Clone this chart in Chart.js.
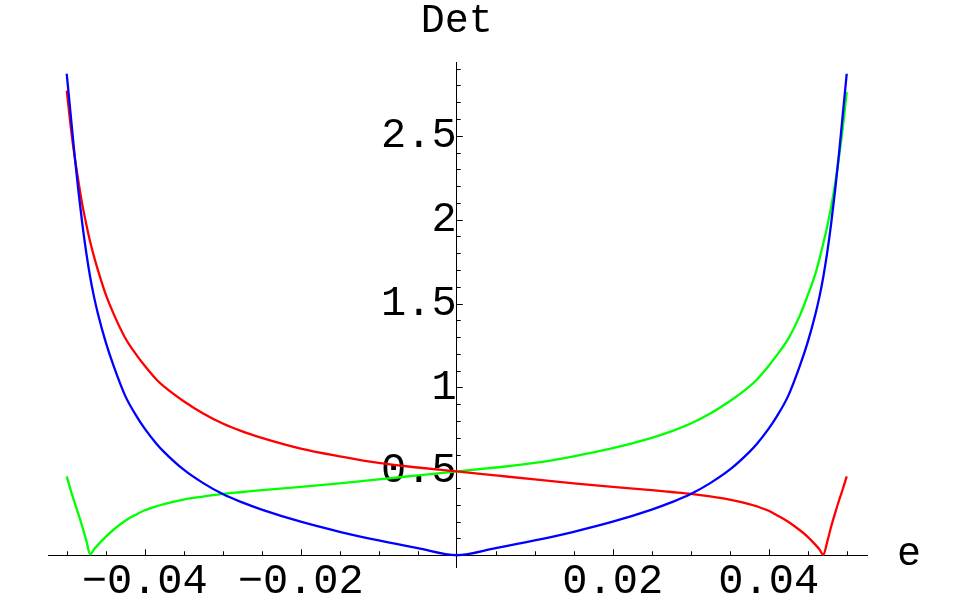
<!DOCTYPE html>
<html>
<head>
<meta charset="utf-8">
<script src="https://cdn.jsdelivr.net/npm/chart.js@4.4.1/dist/chart.umd.min.js"></script>
<style>
  html, body { margin: 0; padding: 0; background: #fff; }
</style>
</head>
<body>
<canvas id="detChart" width="978" height="604"></canvas>
<script>
// sample points along e
const eValues = [
  -0.05, -0.0495, -0.049, -0.0485, -0.048, -0.0475, -0.047, -0.0465, -0.046, -0.045, -0.044,
  -0.0425, -0.041, -0.04, -0.0385, -0.0375, -0.035, -0.0325, -0.03, -0.0275, -0.025,
  -0.02, -0.015, -0.01, -0.005,
  0,
  0.005, 0.01, 0.015, 0.02,
  0.025, 0.0275, 0.03, 0.0325, 0.035, 0.0375, 0.0385, 0.04, 0.041, 0.0425,
  0.044, 0.045, 0.046, 0.0465, 0.047, 0.0475, 0.048, 0.0485, 0.049, 0.0495, 0.05,
];
const blueDet = [
  2.87, 2.63, 2.39, 2.17, 1.975, 1.805, 1.66, 1.54, 1.44, 1.27, 1.13,
  0.95, 0.825, 0.755, 0.665, 0.615, 0.51, 0.43, 0.365, 0.315, 0.272,
  0.2, 0.14, 0.088, 0.042,
  0,
  0.042, 0.088, 0.14, 0.2,
  0.272, 0.315, 0.365, 0.43, 0.51, 0.615, 0.665, 0.755, 0.825, 0.95,
  1.13, 1.27, 1.44, 1.54, 1.66, 1.805, 1.975, 2.17, 2.39, 2.63, 2.87,
];
const redDet = [
  2.77, 2.56, 2.38, 2.23, 2.09, 1.975, 1.87, 1.78, 1.70, 1.555, 1.44,
  1.295, 1.19, 1.13, 1.048, 1.005, 0.918, 0.845, 0.785, 0.738, 0.70,
  0.636, 0.59, 0.55, 0.523,
  0.5,
  0.476, 0.452, 0.429, 0.408,
  0.388, 0.377, 0.366, 0.351, 0.332, 0.305, 0.291, 0.265, 0.24, 0.2,
  0.149, 0.11, 0.062, 0.035, 0.003, 0.08, 0.17, 0.25, 0.325, 0.395, 0.47,
];
const greenDet = [
  0.47, 0.39, 0.315, 0.245, 0.17, 0.09, 0.005, 0.035, 0.062, 0.11, 0.152,
  0.206, 0.245, 0.268, 0.292, 0.305, 0.332, 0.35, 0.366, 0.377, 0.388,
  0.408, 0.429, 0.452, 0.476,
  0.5,
  0.523, 0.55, 0.59, 0.638,
  0.70, 0.738, 0.785, 0.845, 0.918, 1.005, 1.048, 1.13, 1.19, 1.29,
  1.43, 1.55, 1.68, 1.765, 1.86, 1.96, 2.075, 2.21, 2.37, 2.55, 2.76,
];

const xTickLabels = [-0.04, -0.02, 0.02, 0.04];
const yTickLabels = [0.5, 1, 1.5, 2, 2.5];
const xMinorTicks = Array.from({ length: 21 }, (_, i) => -0.05 + i * 0.005);
const yMinorTicks = Array.from({ length: 29 }, (_, i) => 0.1 * (i + 1));

const axisFont = { family: 'Liberation Mono', size: 42 };

const toPoints = ys => eValues.map((x, i) => ({ x, y: ys[i] }));

function curve(data, color) {
  return {
    data: toPoints(data),
    borderColor: color,
    borderWidth: 2.3,
    pointRadius: 0,
    fill: false,
    cubicInterpolationMode: 'monotone',
  };
}

const fmt = v => (v < 0 ? '\u2212' : '') + String(Math.abs(v));

// inward tick marks and the axis names, placed through the scales
const axisDecor = {
  id: 'axisDecor',
  beforeDatasetsDraw(chart) {
    const { ctx, scales: { x, y } } = chart;
    const x0 = x.getPixelForValue(0);
    const y0 = y.getPixelForValue(0);
    ctx.save();
    ctx.strokeStyle = '#000';
    ctx.lineWidth = 1;
    ctx.beginPath();
    xMinorTicks.forEach((v) => {
      if (Math.abs(v) < 1e-9) return;
      const major = xTickLabels.some(t => Math.abs(t - v) < 1e-9);
      const px = Math.round(x.getPixelForValue(v)) + 0.5;
      ctx.moveTo(px, y0);
      ctx.lineTo(px, y0 - (major ? 6 : 4));
    });
    yMinorTicks.forEach((v) => {
      const major = yTickLabels.some(t => Math.abs(t - v) < 1e-9);
      const py = Math.round(y.getPixelForValue(v)) + 0.5;
      ctx.moveTo(x0, py);
      ctx.lineTo(x0 + (major ? 6 : 4), py);
    });
    ctx.stroke();

    ctx.fillStyle = '#000';
    ctx.font = '40px "Liberation Mono"';
    ctx.textBaseline = 'alphabetic';
    ctx.textAlign = 'center';
    ctx.fillText('Det', x0, 32);
    ctx.textAlign = 'left';
    ctx.fillText('e', x.right + 30, y0 + 10);
    ctx.restore();
  },
};

new Chart(document.getElementById('detChart').getContext('2d'), {
  type: 'line',
  data: {
    datasets: [
      curve(blueDet, '#0000ff'),
      curve(redDet, '#ff0000'),
      curve(greenDet, '#00ff00'),
    ],
  },
  options: {
    responsive: false,
    animation: false,
    devicePixelRatio: 1,
    layout: { padding: { left: 48, right: 111, top: 62, bottom: 37 } },
    plugins: { legend: { display: false }, tooltip: { enabled: false } },
    scales: {
      x: {
        type: 'linear',
        min: -0.0524,
        max: 0.0526,
        position: { y: 0 },
        afterFit: (s) => { s.height = 0; },
        afterBuildTicks: (s) => { s.ticks = xTickLabels.map(value => ({ value })); },
        grid: { display: false, drawTicks: false },
        border: { display: true, color: '#000', width: 1 },
        ticks: {
          color: '#000', font: axisFont, padding: 1,
          autoSkip: false, maxRotation: 0,
          callback: v => fmt(v),
        },
      },
      y: {
        type: 'linear',
        min: -0.07,
        max: 2.94,
        position: { x: 0 },
        afterFit: (s) => { s.width = 0; },
        afterBuildTicks: (s) => { s.ticks = yTickLabels.map(value => ({ value })); },
        grid: { display: false, drawTicks: false },
        border: { display: true, color: '#000', width: 1 },
        ticks: {
          color: '#000', font: axisFont, padding: 10,
          autoSkip: false,
          callback: v => fmt(v),
        },
      },
    },
  },
  plugins: [axisDecor],
});
</script>
</body>
</html>
